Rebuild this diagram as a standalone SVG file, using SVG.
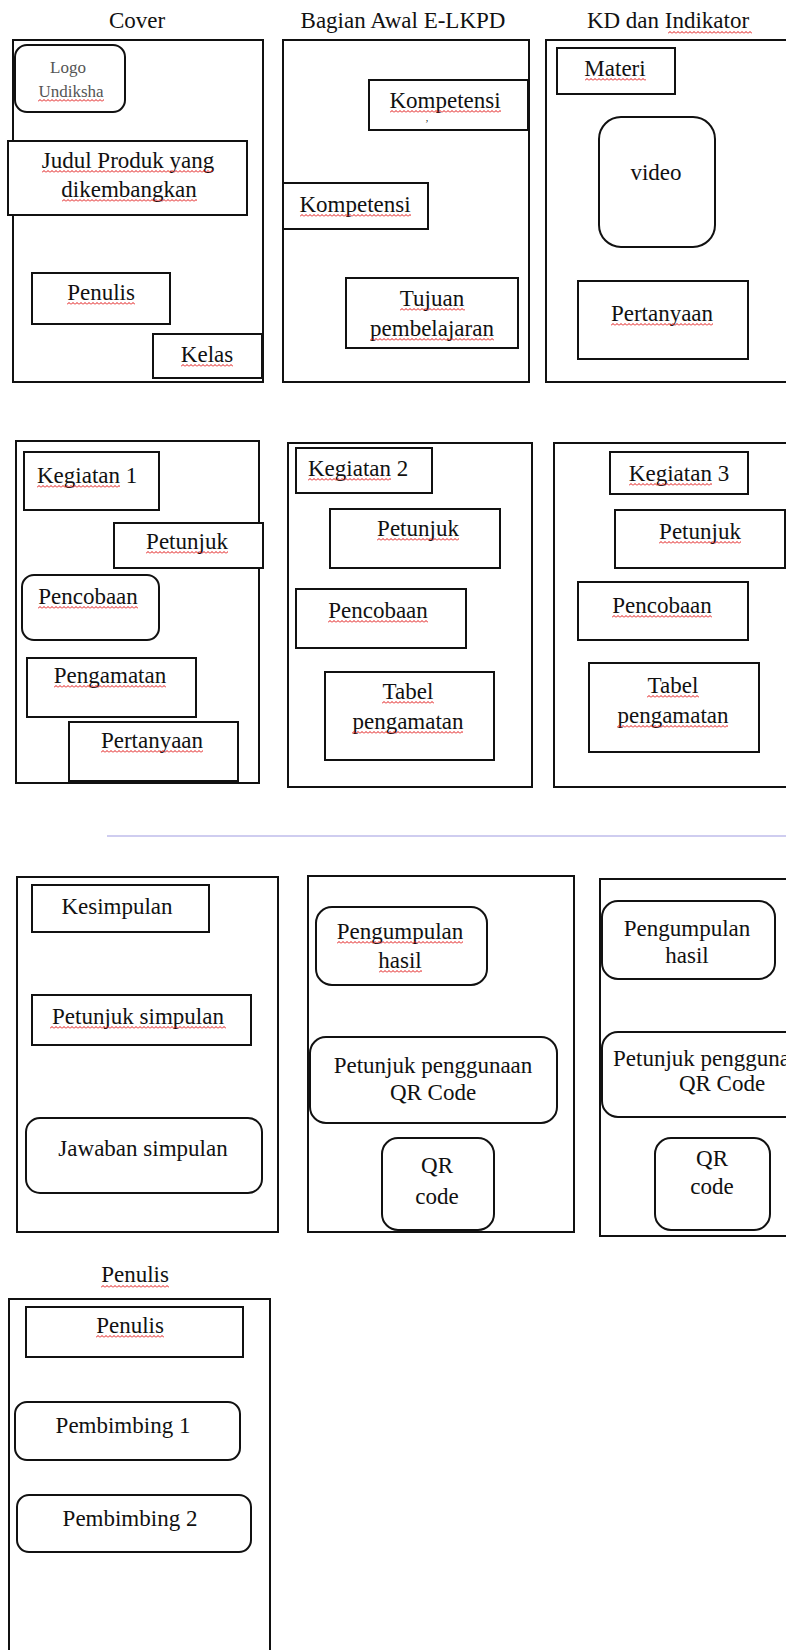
<svg xmlns="http://www.w3.org/2000/svg" width="786" height="1650" viewBox="0 0 786 1650">
<defs>
<pattern id="sq" width="4" height="3" patternUnits="userSpaceOnUse"><path d="M0,2.5 L2,0.5 L4,2.5" fill="none" stroke="#e01010" stroke-width="1"/></pattern>
</defs>
<style>
.frame{fill:#fff;stroke:#111;stroke-width:2}
.box{fill:#fff;stroke:#111;stroke-width:2}
.t{font-family:"Liberation Serif","Times New Roman",serif;font-size:23px;fill:#111;text-anchor:middle}
.s{text-anchor:start}
.logo{font-size:17px;fill:#555}
.sq{fill:url(#sq)}
</style>
<rect width="786" height="1650" fill="#fff"/>

<g id="titles">
<text class="t" x="137" y="28">Cover</text>
<text class="t" x="403" y="28">Bagian Awal E-LKPD</text>
<text class="t" x="668" y="28">KD dan Indikator</text>
<rect class="sq" transform="translate(668,31)" width="84" height="3"/>
<text class="t" x="135" y="1282">Penulis</text>
<rect class="sq" transform="translate(101,1285)" width="68" height="3"/>
</g>

<g id="panel-cover">
<rect class="frame" x="13" y="40" width="250" height="342"/>
<g id="logo"><rect class="box" x="15" y="45" width="110" height="67" rx="12"/>
<text class="t logo" x="68" y="73">Logo</text>
<text class="t logo" x="71" y="97">Undiksha</text>
<rect class="sq" transform="translate(38,99)" width="66" height="3"/></g>
<g id="judul"><rect class="box" x="8" y="141" width="239" height="74"/>
<text class="t" x="128" y="168">Judul Produk yang</text>
<text class="t" x="129" y="197">dikembangkan</text>
<rect class="sq" transform="translate(42,170)" width="171" height="3"/>
<rect class="sq" transform="translate(62,199)" width="135" height="3"/></g>
<g id="cover-penulis"><rect class="box" x="32" y="273" width="138" height="51"/>
<text class="t" x="101" y="300">Penulis</text>
<rect class="sq" transform="translate(67,302)" width="68" height="3"/></g>
<g id="kelas"><rect class="box" x="153" y="334" width="109" height="44"/>
<text class="t" x="207" y="362">Kelas</text>
<rect class="sq" transform="translate(181,364)" width="52" height="3"/></g>
</g>

<g id="panel-awal">
<rect class="frame" x="283" y="40" width="246" height="342"/>
<g id="kompetensi-1"><rect class="box" x="369" y="80" width="159" height="50"/>
<text class="t" x="445" y="108">Kompetensi</text>
<rect class="sq" transform="translate(390,110)" width="111" height="3"/>
<text class="t" x="427" y="121" style="font-size:10px">,</text></g>
<g id="kompetensi-2"><rect class="box" x="283" y="183" width="145" height="46"/>
<text class="t" x="355" y="212">Kompetensi</text>
<rect class="sq" transform="translate(300,214)" width="111" height="3"/></g>
<g id="tujuan"><rect class="box" x="346" y="278" width="172" height="70"/>
<text class="t" x="432" y="306">Tujuan</text>
<text class="t" x="432" y="336">pembelajaran</text>
<rect class="sq" transform="translate(400,308)" width="65" height="3"/>
<rect class="sq" transform="translate(370,338)" width="124" height="3"/></g>
</g>

<g id="panel-kd">
<rect class="frame" x="546" y="40" width="260" height="342"/>
<g id="materi"><rect class="box" x="557" y="48" width="118" height="46"/>
<text class="t" x="615" y="76">Materi</text>
<rect class="sq" transform="translate(585,78)" width="61" height="3"/></g>
<g id="video"><rect class="box" x="599" y="117" width="116" height="130" rx="22"/>
<text class="t" x="656" y="180">video</text></g>
<g id="kd-pertanyaan"><rect class="box" x="578" y="281" width="170" height="78"/>
<text class="t" x="662" y="321">Pertanyaan</text>
<rect class="sq" transform="translate(611,323)" width="102" height="3"/></g>
</g>

<g id="panel-kegiatan-1">
<rect class="frame" x="16" y="441" width="243" height="342"/>
<g id="k1-judul"><rect class="box" x="24" y="452" width="135" height="58"/>
<text class="t s" x="37" y="483">Kegiatan 1</text>
<rect class="sq" transform="translate(37,485)" width="83" height="3"/></g>
<g id="k1-petunjuk"><rect class="box" x="114" y="523" width="149" height="45"/>
<text class="t" x="187" y="549">Petunjuk</text>
<rect class="sq" transform="translate(146,551)" width="82" height="3"/></g>
<g id="k1-pencobaan"><rect class="box" x="22" y="575" width="137" height="65" rx="12"/>
<text class="t" x="88" y="604">Pencobaan</text>
<rect class="sq" transform="translate(38,606)" width="100" height="3"/></g>
<g id="k1-pengamatan"><rect class="box" x="27" y="658" width="169" height="59"/>
<text class="t" x="110" y="683">Pengamatan</text>
<rect class="sq" transform="translate(54,685)" width="112" height="3"/></g>
<g id="k1-pertanyaan"><rect class="box" x="69" y="722" width="169" height="59"/>
<text class="t" x="152" y="748">Pertanyaan</text>
<rect class="sq" transform="translate(101,750)" width="102" height="3"/></g>
</g>

<g id="panel-kegiatan-2">
<rect class="frame" x="288" y="443" width="244" height="344"/>
<g id="k2-judul"><rect class="box" x="296" y="448" width="136" height="45"/>
<text class="t s" x="308" y="476">Kegiatan 2</text>
<rect class="sq" transform="translate(308,478)" width="83" height="3"/></g>
<g id="k2-petunjuk"><rect class="box" x="330" y="509" width="170" height="59"/>
<text class="t" x="418" y="536">Petunjuk</text>
<rect class="sq" transform="translate(377,538)" width="82" height="3"/></g>
<g id="k2-pencobaan"><rect class="box" x="296" y="589" width="170" height="59"/>
<text class="t" x="378" y="618">Pencobaan</text>
<rect class="sq" transform="translate(328,620)" width="100" height="3"/></g>
<g id="k2-tabel"><rect class="box" x="325" y="672" width="169" height="88"/>
<text class="t" x="408" y="699">Tabel</text>
<text class="t" x="408" y="729">pengamatan</text>
<rect class="sq" transform="translate(382,701)" width="52" height="3"/>
<rect class="sq" transform="translate(352,731)" width="111" height="3"/></g>
</g>

<g id="panel-kegiatan-3">
<rect class="frame" x="554" y="443" width="260" height="344"/>
<g id="k3-judul"><rect class="box" x="610" y="452" width="138" height="42"/>
<text class="t" x="679" y="481">Kegiatan 3</text>
<rect class="sq" transform="translate(629,483)" width="83" height="3"/></g>
<g id="k3-petunjuk"><rect class="box" x="615" y="510" width="170" height="58"/>
<text class="t" x="700" y="539">Petunjuk</text>
<rect class="sq" transform="translate(659,541)" width="82" height="3"/></g>
<g id="k3-pencobaan"><rect class="box" x="578" y="582" width="170" height="58"/>
<text class="t" x="662" y="613">Pencobaan</text>
<rect class="sq" transform="translate(612,615)" width="100" height="3"/></g>
<g id="k3-tabel"><rect class="box" x="589" y="663" width="170" height="89"/>
<text class="t" x="673" y="693">Tabel</text>
<text class="t" x="673" y="723">pengamatan</text>
<rect class="sq" transform="translate(647,695)" width="52" height="3"/>
<rect class="sq" transform="translate(617,725)" width="111" height="3"/></g>
</g>

<g id="connectors">
<line x1="107" y1="836" x2="786" y2="836" stroke="#cfcdf0" stroke-width="2"/>
</g>

<g id="panel-kesimpulan">
<rect class="frame" x="17" y="877" width="261" height="355"/>
<g id="kesimpulan"><rect class="box" x="32" y="885" width="177" height="47"/>
<text class="t" x="117" y="914">Kesimpulan</text></g>
<g id="petunjuk-simpulan"><rect class="box" x="32" y="995" width="219" height="50"/>
<text class="t" x="138" y="1024">Petunjuk simpulan</text>
<rect class="sq" transform="translate(50,1026)" width="176" height="3"/></g>
<g id="jawaban-simpulan"><rect class="box" x="26" y="1118" width="236" height="75" rx="14"/>
<text class="t" x="143" y="1156">Jawaban simpulan</text></g>
</g>

<g id="panel-qr-1">
<rect class="frame" x="308" y="876" width="266" height="356"/>
<g id="qr1-pengumpulan"><rect class="box" x="316" y="907" width="171" height="78" rx="16"/>
<text class="t" x="400" y="939">Pengumpulan</text>
<text class="t" x="400" y="968">hasil</text>
<rect class="sq" transform="translate(337,941)" width="126" height="3"/>
<rect class="sq" transform="translate(379,970)" width="43" height="3"/></g>
<g id="qr1-petunjuk"><rect class="box" x="310" y="1037" width="247" height="86" rx="16"/>
<text class="t" x="433" y="1073">Petunjuk penggunaan</text>
<text class="t" x="433" y="1100">QR Code</text></g>
<g id="qr1-code"><rect class="box" x="382" y="1138" width="112" height="92" rx="16"/>
<text class="t" x="437" y="1173">QR</text>
<text class="t" x="437" y="1204">code</text></g>
</g>

<g id="panel-qr-2">
<rect class="frame" x="600" y="879" width="200" height="357"/>
<g id="qr2-pengumpulan"><rect class="box" x="602" y="901" width="173" height="78" rx="16"/>
<text class="t" x="687" y="936">Pengumpulan</text>
<text class="t" x="687" y="963">hasil</text></g>
<g id="qr2-petunjuk"><rect class="box" x="602" y="1032" width="200" height="85" rx="16"/>
<text class="t s" x="613" y="1066">Petunjuk penggunaan</text>
<text class="t" x="722" y="1091">QR Code</text></g>
<g id="qr2-code"><rect class="box" x="655" y="1138" width="115" height="92" rx="16"/>
<text class="t" x="712" y="1166">QR</text>
<text class="t" x="712" y="1194">code</text></g>
</g>

<g id="panel-penulis">
<rect class="frame" x="9" y="1299" width="261" height="400"/>
<g id="penulis-box"><rect class="box" x="26" y="1307" width="217" height="50"/>
<text class="t" x="130" y="1333">Penulis</text>
<rect class="sq" transform="translate(96,1335)" width="68" height="3"/></g>
<g id="pembimbing-1"><rect class="box" x="15" y="1402" width="225" height="58" rx="12"/>
<text class="t" x="123" y="1433">Pembimbing 1</text></g>
<g id="pembimbing-2"><rect class="box" x="17" y="1495" width="234" height="57" rx="12"/>
<text class="t" x="130" y="1526">Pembimbing 2</text></g>
</g>
</svg>
